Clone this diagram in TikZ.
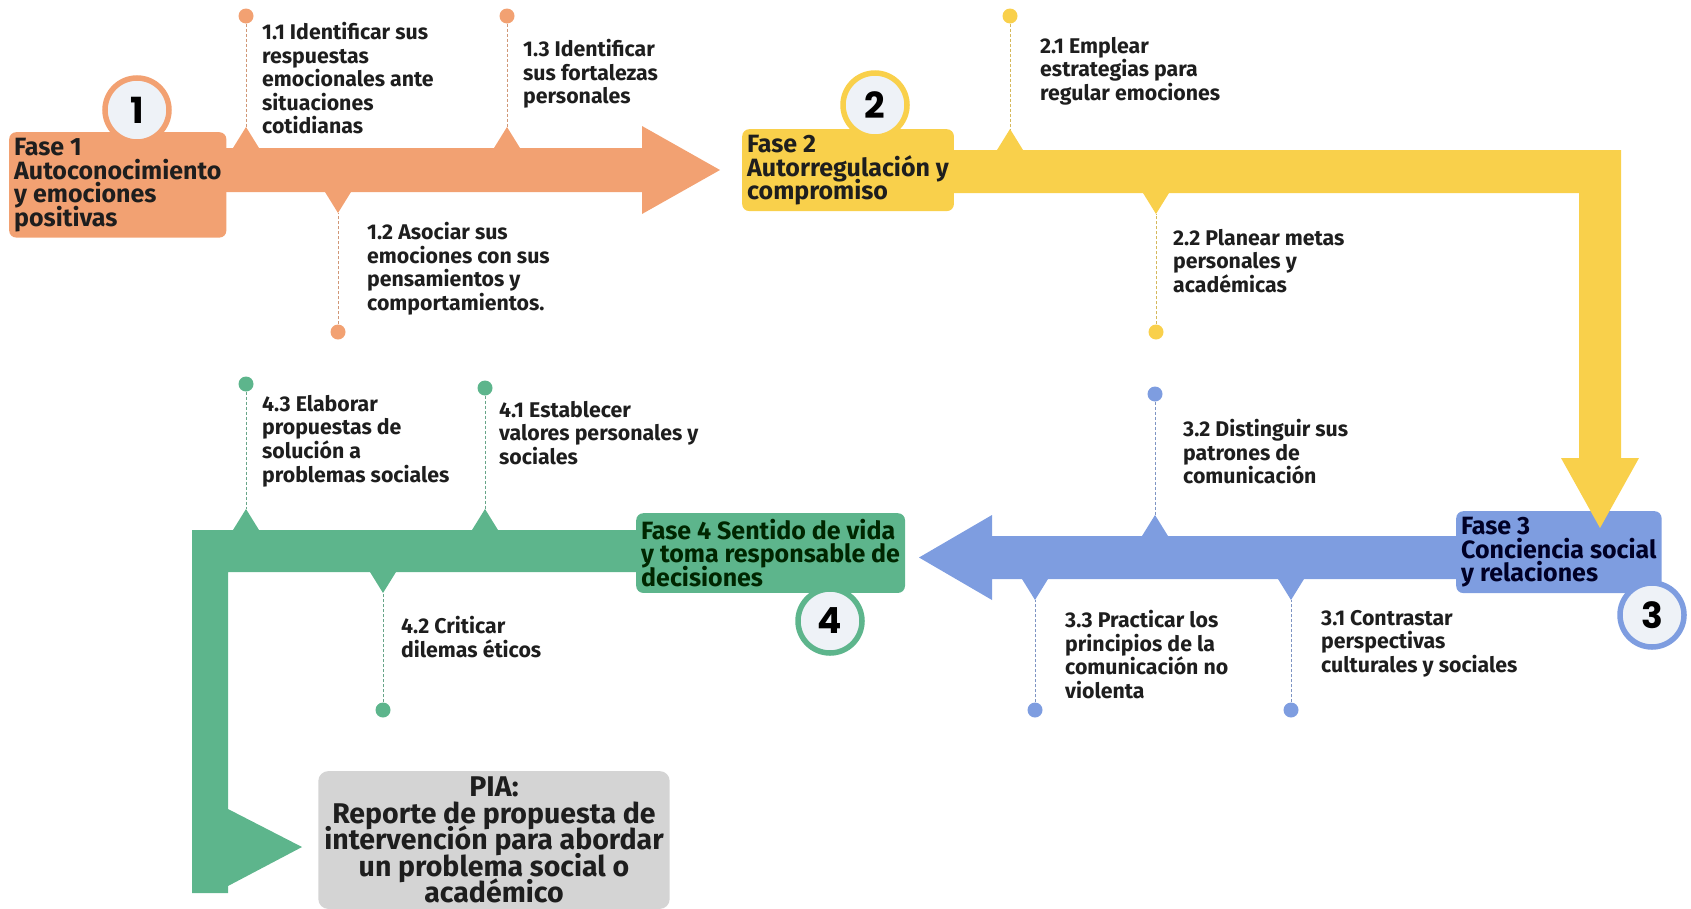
\documentclass[tikz,border=0pt]{standalone}
\usepackage{fontspec}
\setmainfont{Fira Sans}
\newfontfamily\numfont{Poppins}
\usetikzlibrary{positioning, calc}

\definecolor{naranja}{HTML}{F2A172}
\definecolor{amarillo}{HTML}{F9D04B}
\definecolor{azul}{HTML}{7E9DE0}
\definecolor{verde}{HTML}{5DB58C}
\definecolor{gris}{HTML}{D4D4D4}
\definecolor{fondo}{HTML}{EEF2F7}
\definecolor{tinta}{HTML}{1E1E1E}

\setlength{\lineskiplimit}{-100pt}

\begin{document}
\begin{tikzpicture}[
  x=1pt, y=-1pt,
  fase/.style={rectangle, rounded corners=7pt, inner xsep=5pt, inner ysep=6pt, align=left, anchor=north west, font=\fontsize{25}{23.5}\selectfont\bfseries, text=tinta},
  item/.style={inner sep=0pt, align=left, anchor=north west, font=\fontsize{21.3}{23.6}\selectfont\bfseries, text=tinta},
  dot/.style={circle, inner sep=0pt, minimum size=15pt},
  ring/.style={circle, draw, line width=5.5pt, fill=fondo, minimum size=64pt, inner sep=0pt, font=\fontsize{36}{36}\selectfont\numfont\bfseries},
  guide/.style={line width=0.7pt, dash pattern=on 3pt off 2pt}
]
\useasboundingbox (0,0) rectangle (1691,908);

% bands
\fill[naranja] (150,148) -- (642,148) -- (642,126) -- (720,170) -- (642,214) -- (642,192) -- (150,192) -- cycle;
\fill[azul] (1500,536) -- (992,536) -- (992,515) -- (919,557.5) -- (992,600) -- (992,579) -- (1500,579) -- cycle;
\fill[verde] (700,530) -- (192,530) -- (192,893) -- (228,893) -- (228,886) -- (302,847) -- (228,809) -- (228,572) -- (700,572) -- cycle;

% notches
\foreach \x in {246, 507} \fill[naranja] (\x-13,148) -- (\x,127) -- (\x+13,148) -- cycle;
\fill[naranja] (325,192) -- (338,213) -- (351,192) -- cycle;
\fill[amarillo] (997,150) -- (1010,129) -- (1023,150) -- cycle;
\fill[amarillo] (1143,193) -- (1156,214) -- (1169,193) -- cycle;
\fill[azul] (1142,536) -- (1155,515) -- (1168,536) -- cycle;
\foreach \x in {1035, 1291} \fill[azul] (\x-13,579) -- (\x,600) -- (\x+13,579) -- cycle;
\foreach \x in {246, 485} \fill[verde] (\x-13,530) -- (\x,509) -- (\x+13,530) -- cycle;
\fill[verde] (370,572) -- (383,593) -- (396,572) -- cycle;

% phase boxes
\node[fase, fill=naranja] (f1) at (9,132) {Fase 1\\Autoconocimiento\\y emociones\\positivas};
\node[fase, fill=azul, text=black!85!blue] (f3) at (1456,511) {Fase 3\\Conciencia social\\y relaciones};
\fill[amarillo] (900,150) -- (1621,150) -- (1621,458) -- (1639,458) -- (1600,528) -- (1561,458) -- (1579,458) -- (1579,193) -- (900,193) -- cycle;
\node[fase, fill=amarillo] (f2) at (742,129) {Fase 2\\Autorregulación y\\compromiso};
\node[fase, fill=verde, text=black!85!green] (f4) at (636,513) {Fase 4 Sentido de vida\\y toma responsable de\\decisiones};

% number rings
\node[ring, draw=naranja] (c1) at (137,110) {1};
\node[ring, draw=amarillo] (c2) at (875,105) {2};
\node[ring, draw=azul] (c3) at (1652,615) {3};
\node[ring, draw=verde] (c4) at (830,621) {4};

% dots and guides
\node[dot, fill=naranja] (d11) at (246,16) {};
\node[dot, fill=naranja] (d13) at (507,16) {};
\node[dot, fill=naranja] (d12) at (338,332) {};
\node[dot, fill=amarillo] (d21) at (1010,16) {};
\node[dot, fill=amarillo] (d22) at (1156,332) {};
\node[dot, fill=azul] (d32) at (1155,394) {};
\node[dot, fill=azul] (d33) at (1035,710) {};
\node[dot, fill=azul] (d31) at (1291,710) {};
\node[dot, fill=verde] (d43) at (246,384) {};
\node[dot, fill=verde] (d41) at (485,388) {};
\node[dot, fill=verde] (d42) at (383,710) {};

\coordinate (n11) at (246,127);
\coordinate (n13) at (507,127);
\coordinate (n12) at (338,213);
\coordinate (n21) at (1010,129);
\coordinate (n22) at (1156,214);
\coordinate (n32) at (1155,515);
\coordinate (n33) at (1035,600);
\coordinate (n31) at (1291,600);
\coordinate (n43) at (246,509);
\coordinate (n41) at (485,509);
\coordinate (n42) at (383,593);

\draw[guide, naranja!70!gray] (d11) -- (n11);
\draw[guide, naranja!70!gray] (d13) -- (n13);
\draw[guide, naranja!70!gray] (d12) -- (n12);
\draw[guide, amarillo!70!gray] (d21) -- (n21);
\draw[guide, amarillo!70!gray] (d22) -- (n22);
\draw[guide, azul!70!gray] (d32) -- (n32);
\draw[guide, azul!70!gray] (d33) -- (n33);
\draw[guide, azul!70!gray] (d31) -- (n31);
\draw[guide, verde!70!gray] (d43) -- (n43);
\draw[guide, verde!70!gray] (d41) -- (n41);
\draw[guide, verde!70!gray] (d42) -- (n42);

% items
\node[item] (t11) at (262,22) {1.1 Identificar sus\\respuestas\\emocionales ante\\situaciones\\cotidianas};
\node[item] (t13) at (523,39) {1.3 Identificar\\sus fortalezas\\personales};
\node[item] (t12) at (367,222) {1.2 Asociar sus\\emociones con sus\\pensamientos y\\comportamientos.};
\node[item] (t21) at (1040,37) {2.1 Emplear\\estrategias para\\regular emociones};
\node[item] (t22) at (1173,229) {2.2 Planear metas\\personales y\\académicas};
\node[item] (t32) at (1183,419) {3.2 Distinguir sus\\patrones de\\comunicación};
\node[item] (t33) at (1065,610) {3.3 Practicar los\\principios de la\\comunicación no\\violenta};
\node[item] (t31) at (1321,610) {3.1 Contrastar\\perspectivas\\culturales y sociales};
\node[item] (t43) at (262,395) {4.3 Elaborar\\propuestas de\\solución a\\problemas sociales};
\node[item] (t41) at (499,401) {4.1 Establecer\\valores personales y\\sociales};
\node[item] (t42) at (401,616) {4.2 Criticar\\dilemas éticos};

% final product
\node[fill=gris, rounded corners=10pt, inner xsep=6pt, inner ysep=6pt, align=center, text=tinta, font=\fontsize{28.5}{26.4}\selectfont\bfseries] (pia) at (494,840) {PIA:\\Reporte de propuesta de\\intervención para abordar\\un problema social o\\académico};

\end{tikzpicture}
\end{document}
